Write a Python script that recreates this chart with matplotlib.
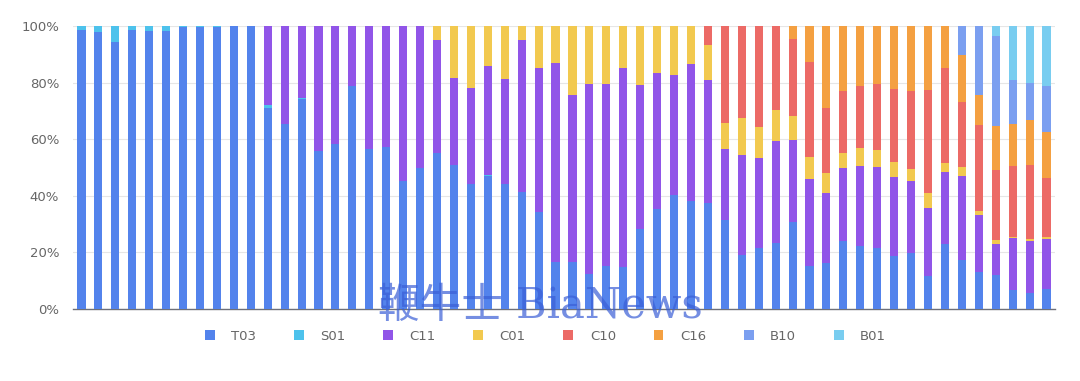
import numpy as np
import matplotlib
matplotlib.use("Agg")
import matplotlib.pyplot as plt
from matplotlib.patches import Patch
from matplotlib.ticker import FuncFormatter

# share of each model per period (%)
T03 = [98.6, 97.9, 94.3, 98.6, 98.2, 98.2, 99.6, 99.8, 99.6, 100, 100,
       71.2, 65.2, 74.3, 55.8, 58.4, 78.8, 56.7, 57.1, 45.4, 50.0,
       55.0, 50.8, 44.3, 46.9, 44.1, 41.5, 34.1, 16.7, 16.7, 12.3, 15.2, 14.7,
       28.1, 35.3, 40.2, 38.0, 37.6, 31.4, 19.2, 21.5, 23.3,
       30.8, 15.3, 16.4, 24.2, 22.1, 21.5, 18.6, 19.7,
       11.6, 22.9, 17.5, 13.1, 12.1, 6.8, 5.7, 7.2]
S01 = [1.4, 2.1, 5.7, 1.4, 1.8, 1.8, 0.4, 0.2, 0.4, 0, 0,
       0.8, 0, 0.2, 0, 0, 0, 0, 0, 0, 0,
       0, 0, 0, 0.5] + [0] * 33
C11 = [0] * 11 + [28.0, 34.8, 25.5, 44.2, 41.6, 21.2, 43.3, 42.9, 54.6, 50.0,
       40.0, 30.7, 33.7, 38.4, 37.3, 53.4, 51.2, 70.3, 58.8, 67.2, 64.3, 70.4,
       50.9, 48.0, 42.5, 48.7, 43.2, 25.1, 35.1, 31.7, 36.3,
       28.9, 30.8, 24.6, 25.7, 28.4, 28.8, 27.9, 25.7,
       23.9, 25.6, 29.6, 20.0, 11.0, 18.3, 18.2, 17.7]
C01 = [0] * 21 + [5.0, 18.5, 22.0, 14.2, 18.6, 5.1, 14.7, 13.0, 24.5, 20.5, 20.5, 14.9,
       21.0, 16.7, 17.3, 13.3, 12.5, 9.1, 13.2, 11.0, 10.8,
       8.6, 7.8, 7.0, 5.3, 6.5, 6.0, 5.5, 4.0,
       5.5, 3.2, 3.2, 1.5, 1.2, 0.5, 0.8, 0.5]
C10 = [0] * 37 + [6.7, 34.4, 32.5, 35.8, 29.7,
       27.1, 33.3, 23.2, 21.9, 21.8, 23.3, 25.8, 27.6,
       36.3, 33.6, 23.0, 30.5, 24.8, 25.1, 26.2, 21.0]
C16 = [0] * 42 + [4.6, 12.9, 28.8, 22.9, 21.2, 20.4, 22.1, 23.0,
       22.6, 14.7, 16.5, 10.4, 15.6, 14.5, 15.9, 16.0]
B10 = [0] * 52 + [10.3, 24.4, 31.8, 15.7, 13.2, 16.4]
B01 = [0] * 54 + [3.5, 19.1, 20.0, 21.2]

names = ["T03", "S01", "C11", "C01", "C10", "C16", "B10", "B01"]
colors = ["#5383EC", "#4DC2EC", "#9155E8", "#F2C94F", "#EC6A66",
          "#F4A041", "#7B9FF0", "#79CDF0"]

data = np.array([T03, S01, C11, C01, C10, C16, B10, B01], dtype=float)
data = data / data.sum(axis=0) * 100   # 100% stacked
x = np.arange(data.shape[1])

fig = plt.figure(figsize=(10.8, 3.81), dpi=100)
ax = fig.add_axes([73 / 1080, 72 / 381, 982 / 1080, 283 / 381])

bottom = np.zeros(data.shape[1])
for row, name, col in zip(data, names, colors):
    ax.bar(x, row, 0.48, bottom=bottom, color=col, label=name, zorder=3)
    bottom += row

ax.set_xlim(-0.5, len(x) - 0.5)
ax.set_ylim(0, 100)
ax.set_yticks(np.arange(0, 101, 20))
ax.yaxis.set_major_formatter(FuncFormatter(lambda v, p: f"{v:.0f}%"))
ax.tick_params(axis="y", length=0, pad=10, labelsize=9.5, labelcolor="#666666")
ax.set_xticks([])
ax.grid(axis="y", color="#e6e6e6", lw=0.8, zorder=0)
for s in ["top", "right", "left"]:
    ax.spines[s].set_visible(False)
ax.spines["bottom"].set_color("#6e7079")
ax.spines["bottom"].set_linewidth(1.0)

handles = [Patch(facecolor=c, edgecolor="none") for c in colors]
fig.legend(handles, names, loc="center", bbox_to_anchor=(0.505, 45 / 381),
           ncol=8, frameon=False, fontsize=9.5, handlelength=0.75,
           handleheight=0.75, handletextpad=1.25, columnspacing=2.85,
           labelcolor="#666666")

# watermark
fig.text(0.5, 75 / 381, "鞭牛士 BiaNews", ha="center", va="center",
         fontsize=30, color="#3a5fd6", alpha=0.7, zorder=10,
         family=["DejaVu Serif", "Noto Sans CJK SC"])

fig.savefig("out.png", dpi=100)
